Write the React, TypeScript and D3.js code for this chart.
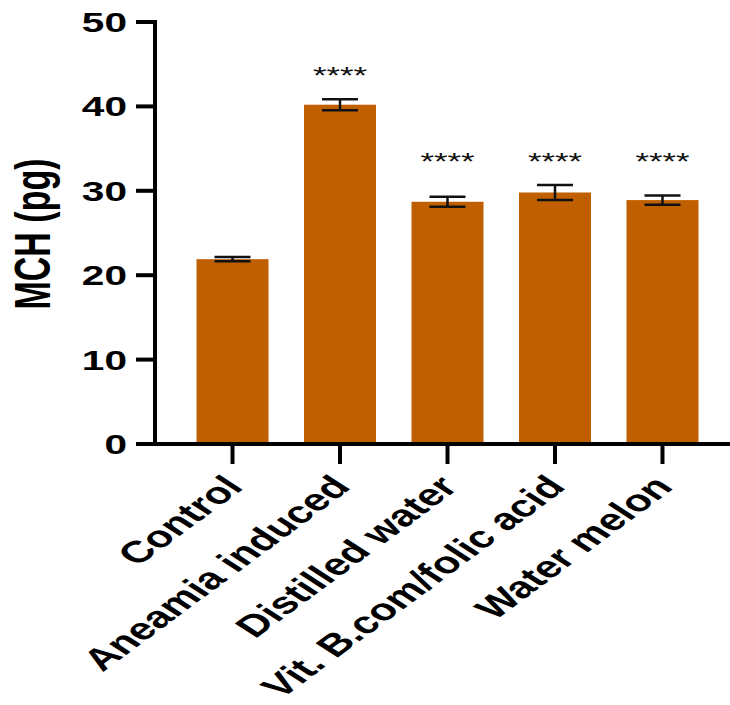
import React from "react";
import * as d3 from "d3";

const categories = ["Control", "Aneamia induced", "Distilled water", "Vit. B.com/folic acid", "Water melon"];
const means = [21.9, 40.2, 28.7, 29.8, 28.9];
const errors = [0.25, 0.65, 0.6, 0.9, 0.55];
const sigLabels = ["", "****", "****", "****", "****"];
const sigY = [0, 42.7, 32.5, 32.5, 32.5];
const yTicks = [0, 10, 20, 30, 40, 50];
const yTitle = "MCH (pg)";

const W = 730;
const H = 705;
const SX = 1.45;
const FONT = "Liberation Sans, Arial, Helvetica, sans-serif";

export default function App() {
  const y = d3.scaleLinear().domain([0, 50]).range([444, 22]);
  const x = d3.scaleBand().domain(categories).range([175, 720]).paddingInner(0.33).paddingOuter(0.2);
  const axisX = 155;
  const bw = 72;
  const capW = 36;
  const color = "#C05F00";

  return (
    <svg width={W} height={H} style={{ position: "absolute", left: 0, top: 0, background: "#fff" }} fontFamily={FONT}>
      {categories.map((c, i) => {
        const cx = (x(c) as number) + x.bandwidth() / 2;
        const top = y(means[i]);
        const eTop = y(means[i] + errors[i]);
        const eBot = y(means[i] - errors[i]);
        return (
          <g key={c}>
            <rect x={cx - bw / 2} y={top} width={bw} height={y(0) - top} fill={color} />
            <line x1={cx} x2={cx} y1={eTop} y2={eBot} stroke="#111" strokeWidth={2.5} />
            <line x1={cx - capW / 2} x2={cx + capW / 2} y1={eTop} y2={eTop} stroke="#111" strokeWidth={2.5} />
            <line x1={cx - capW / 2} x2={cx + capW / 2} y1={eBot} y2={eBot} stroke="#111" strokeWidth={2.5} />
            {sigLabels[i] && (
              <text
                transform={`translate(${cx},${y(sigY[i])}) scale(${SX},1)`}
                textAnchor="middle"
                fontSize={24}
                fill="#111"
              >
                {sigLabels[i]}
              </text>
            )}
            <line x1={cx} x2={cx} y1={444} y2={464} stroke="#000" strokeWidth={4} />
            <text
              transform={`translate(${cx + 12},${488}) scale(${SX},1) rotate(-47)`}
              textAnchor="end"
              fontSize={30.5}
              fontWeight="bold"
              fill="#000"
            >
              {c}
            </text>
          </g>
        );
      })}
      {/* Y axis */}
      <line x1={axisX} x2={axisX} y1={y(50) - 2} y2={y(0) + 2} stroke="#000" strokeWidth={4} />
      {yTicks.map((t) => (
        <g key={t}>
          <line x1={axisX - 19} x2={axisX} y1={y(t)} y2={y(t)} stroke="#000" strokeWidth={4} />
          <text
            transform={`translate(127,${y(t)}) scale(${SX},1)`}
            textAnchor="end"
            dy="0.36em"
            fontSize={28}
            fontWeight="bold"
            fill="#000"
          >
            {t}
          </text>
        </g>
      ))}
      {/* X axis */}
      <line x1={axisX - 2} x2={730} y1={y(0)} y2={y(0)} stroke="#000" strokeWidth={4} />
      <text
        transform={`translate(50,234) scale(${SX},1) rotate(-90)`}
        textAnchor="middle"
        fontSize={34}
        fontWeight="bold"
        fill="#000"
      >
        {yTitle}
      </text>
    </svg>
  );
}
